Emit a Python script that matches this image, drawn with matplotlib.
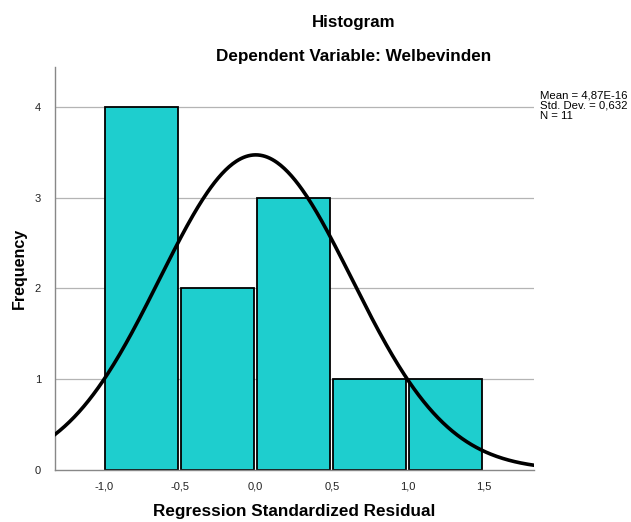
import numpy as np
import matplotlib.pyplot as plt

# histogram of the standardized residuals
bin_left = [-1.0, -0.5, 0.0, 0.5, 1.0]
counts = [4, 2, 3, 1, 1]
bin_width = 0.5
mean = 0.0
sd = 0.632
n = 11
xticks = [-1.0, -0.5, 0.0, 0.5, 1.0, 1.5]
xtick_labels = ['-1,0', '-0,5', '0,0', '0,5', '1,0', '1,5']
yticks = [0, 1, 2, 3, 4]
stats_lines = ['Mean = 4,87E-16', 'Std. Dev. = 0,632', 'N = 11']

plt.rcParams['font.family'] = ['Liberation Sans', 'DejaVu Sans']

fig = plt.figure(figsize=(6.31, 5.22), dpi=100)
ax = fig.add_axes([55/631, 1 - 470/522, (534-55)/631, (470-67)/522])

xmin, xmax = -1.32, 1.83
ymin, ymax = 0, 4.44

for y in yticks[1:]:
    ax.axhline(y, color='#b4b4b4', lw=0.9, zorder=0)

centers = [l + bin_width/2 for l in bin_left]
ax.bar(centers, counts, width=bin_width - 0.022, color='#1ecece',
       edgecolor='black', linewidth=1.3, zorder=2)

xs = np.linspace(xmin, xmax, 400)
ys = n * bin_width / (sd * np.sqrt(2*np.pi)) * np.exp(-0.5*((xs - mean)/sd)**2)
ax.plot(xs, ys, color='black', lw=2.6, zorder=3, clip_on=True)

ax.set_xlim(xmin, xmax)
ax.set_ylim(ymin, ymax)
ax.set_xticks(xticks)
ax.set_xticklabels(xtick_labels)
ax.set_yticks(yticks)
ax.tick_params(length=0, labelsize=8, pad=8, colors='#222222')
ax.tick_params(axis='y', pad=10)
for s in ['top', 'right']:
    ax.spines[s].set_visible(False)
for s in ['left', 'bottom']:
    ax.spines[s].set_color('#888888')
    ax.spines[s].set_linewidth(1.0)

ax.set_xlabel('Regression Standardized Residual', fontsize=12.3, fontweight='bold', labelpad=9)
ax.set_ylabel('Frequency', fontsize=11.5, fontweight='bold', labelpad=6)

fig.text(354/631, 1 - 22/522, 'Histogram', ha='center', va='center', fontsize=12.2, fontweight='bold')
fig.text(354/631, 1 - 56/522, 'Dependent Variable: Welbevinden', ha='center', va='center',
         fontsize=12.3, fontweight='bold')
for i, line in enumerate(stats_lines):
    fig.text(540/631, 1 - (96 + 10*i)/522, line, ha='left', va='center', fontsize=8.2)

fig.savefig('out.png', dpi=100)
